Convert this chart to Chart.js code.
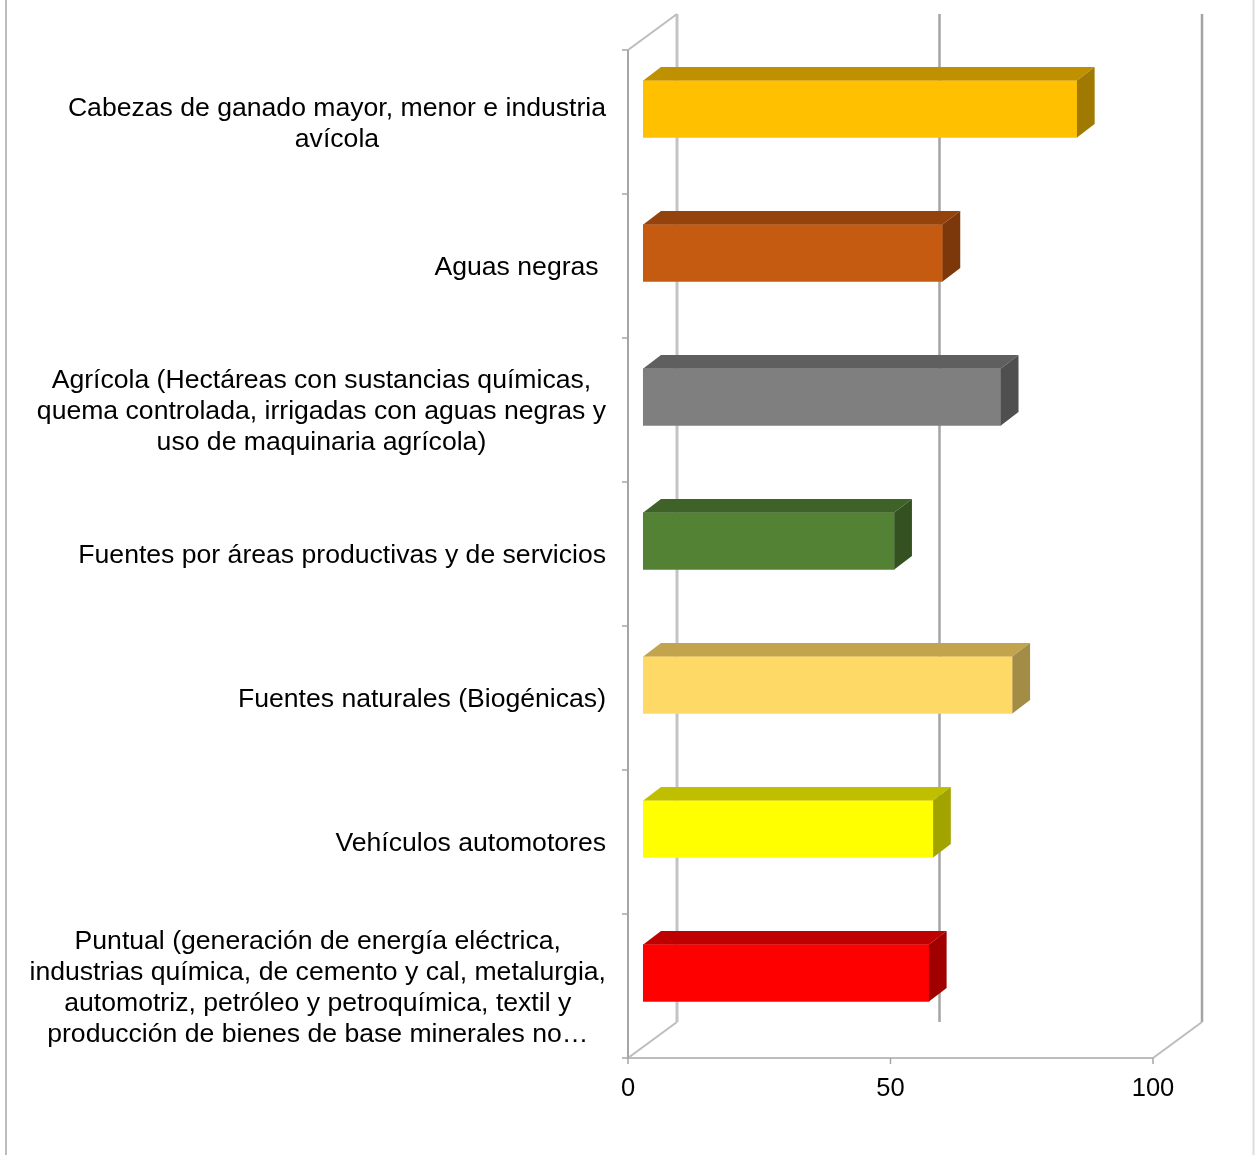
<!DOCTYPE html>
<html>
<head>
<meta charset="utf-8">
<script src="https://cdn.jsdelivr.net/npm/chart.js@4.4.1/dist/chart.umd.min.js"></script>
<style>
  html, body { margin: 0; padding: 0; background: #fff; }
  #wrap { width: 1255px; height: 1155px; }
</style>
</head>
<body>
<div id="wrap"><canvas id="chart" width="1255" height="1155"></canvas></div>
<script>
// categories (each label split in its lines)
const categories = [
  ["Cabezas de ganado mayor, menor e industria", "avícola"],
  ["Aguas negras "],
  ["Agrícola (Hectáreas con sustancias químicas,", "quema controlada, irrigadas con aguas negras y", "uso de maquinaria agrícola)"],
  ["Fuentes por áreas productivas y de servicios"],
  ["Fuentes naturales (Biogénicas)"],
  ["Vehículos automotores"],
  ["Puntual (generación de energía eléctrica,", "industrias química, de cemento y cal, metalurgia,", "automotriz, petróleo y petroquímica, textil y", "producción de bienes de base minerales no…"]
];
const values = [82.6, 57.0, 68.1, 47.8, 70.3, 55.2, 54.4];
const xTicks = [0, 50, 100];

// bar face colours
const frontColors = ["#FFC000", "#C55A11", "#7F7F7F", "#548235", "#FFD966", "#FFFF00", "#FF0000"];
const topColors = ["#BF9000", "#94430D", "#5F5F5F", "#3F6228", "#C2A44E", "#BFBF00", "#BF0000"];
const sideColors = ["#A07A00", "#7C380B", "#4F4F4F", "#345121", "#A38C46", "#A3A300", "#A00000"];

const FONT = '26.6px "Liberation Sans", Arial, sans-serif';
const DEPTH = { x: 49, y: -36 };        // depth of the walls
const BAR_SHIFT = { x: 15.3, y: -13 };  // bars sit in the middle of the depth
const BAR_DEPTH = { x: 17.7, y: -13.6 };

function line(ctx, x1, y1, x2, y2) {
  ctx.beginPath();
  ctx.moveTo(x1, y1);
  ctx.lineTo(x2, y2);
  ctx.stroke();
}

function poly(ctx, pts) {
  ctx.beginPath();
  ctx.moveTo(pts[0][0], pts[0][1]);
  for (let i = 1; i < pts.length; i++) ctx.lineTo(pts[i][0], pts[i][1]);
  ctx.closePath();
  ctx.fill();
}

const walls3d = {
  id: "walls3d",
  beforeDraw(chart) {
    const { ctx, chartArea: a, scales: { x } } = chart;
    ctx.save();
    ctx.fillStyle = "#fff";
    ctx.fillRect(0, 0, chart.width, chart.height);

    // frame of the figure
    ctx.strokeStyle = "#BDBDBD";
    ctx.lineWidth = 2;
    line(ctx, 6, 0, 6, chart.height);
    ctx.strokeStyle = "#DDDDDD";
    line(ctx, 1253.5, 0, 1253.5, chart.height);

    // back wall gridlines
    xTicks.forEach((v) => {
      const px = x.getPixelForValue(v) + DEPTH.x;
      ctx.strokeStyle = v === 0 ? "#C4C4C4" : "#A4A4A4";
      ctx.lineWidth = v === 0 ? 3 : 2.5;
      line(ctx, px, a.top + DEPTH.y, px, a.bottom + DEPTH.y);
    });

    // left wall and floor edges
    ctx.strokeStyle = "#BDBDBD";
    ctx.lineWidth = 2;
    const x0 = x.getPixelForValue(0);
    const x100 = x.getPixelForValue(100);
    line(ctx, x0, a.top, x0 + DEPTH.x, a.top + DEPTH.y);
    line(ctx, x0, a.bottom, x0 + DEPTH.x, a.bottom + DEPTH.y);
    line(ctx, x100, a.bottom, x100 + DEPTH.x, a.bottom + DEPTH.y);
    line(ctx, x0, a.bottom, x100, a.bottom);
    ctx.strokeStyle = "#A6A6A6";
    line(ctx, x0, a.top, x0, a.bottom);

    // tick marks
    ctx.lineWidth = 1.5;
    for (let i = 0; i <= categories.length; i++) {
      const py = a.top + (i * (a.bottom - a.top)) / categories.length;
      line(ctx, x0 - 6, py, x0, py);
    }
    xTicks.forEach((v) => {
      const px = x.getPixelForValue(v);
      line(ctx, px, a.bottom, px, a.bottom + 6);
    });
    ctx.restore();
  },
  beforeDatasetsDraw(chart) {
    chart.ctx.save();
    chart.ctx.translate(BAR_SHIFT.x, BAR_SHIFT.y);
  },
  afterDatasetsDraw(chart) {
    const ctx = chart.ctx;
    const meta = chart.getDatasetMeta(0);
    meta.data.forEach((bar, i) => {
      const p = bar.getProps(["x", "y", "base", "height"], true);
      const top = p.y - p.height / 2;
      const bottom = p.y + p.height / 2;
      ctx.fillStyle = topColors[i];
      poly(ctx, [[p.base, top], [p.x, top], [p.x + BAR_DEPTH.x, top + BAR_DEPTH.y], [p.base + BAR_DEPTH.x, top + BAR_DEPTH.y]]);
      ctx.fillStyle = sideColors[i];
      poly(ctx, [[p.x, top], [p.x, bottom], [p.x + BAR_DEPTH.x, bottom + BAR_DEPTH.y], [p.x + BAR_DEPTH.x, top + BAR_DEPTH.y]]);
    });
    ctx.restore();
  },
  afterDraw(chart) {
    // category labels: block right aligned, lines centred inside it
    const { ctx, chartArea: a, scales: { y } } = chart;
    ctx.save();
    ctx.font = FONT;
    ctx.fillStyle = "#000";
    ctx.textAlign = "center";
    ctx.textBaseline = "middle";
    const right = a.left - 22;
    categories.forEach((lines, i) => {
      const yc = y.getPixelForValue(i) + 2;
      const w = Math.max(...lines.map((t) => ctx.measureText(t).width));
      const cx = right - w / 2;
      lines.forEach((t, j) => {
        ctx.fillText(t, cx, yc + (j - (lines.length - 1) / 2) * 31);
      });
    });
    ctx.restore();
  }
};

new Chart(document.getElementById("chart"), {
  type: "bar",
  data: {
    labels: categories,
    datasets: [{
      data: values,
      backgroundColor: frontColors,
      borderWidth: 0,
      barThickness: 57,
      clip: false
    }]
  },
  options: {
    indexAxis: "y",
    responsive: false,
    animation: false,
    layout: { padding: { left: 628, right: 102, top: 50, bottom: 0 } },
    plugins: { legend: { display: false }, tooltip: { enabled: false } },
    scales: {
      x: {
        min: 0,
        max: 100,
        grid: { display: false, drawTicks: false },
        border: { display: false },
        ticks: { stepSize: 50, padding: 16, color: "#000", font: { family: '"Liberation Sans", Arial, sans-serif', size: 25.5 } },
        afterFit: (s) => { s.height = 97; }
      },
      y: {
        display: false
      }
    }
  },
  plugins: [walls3d]
});
</script>
</body>
</html>
